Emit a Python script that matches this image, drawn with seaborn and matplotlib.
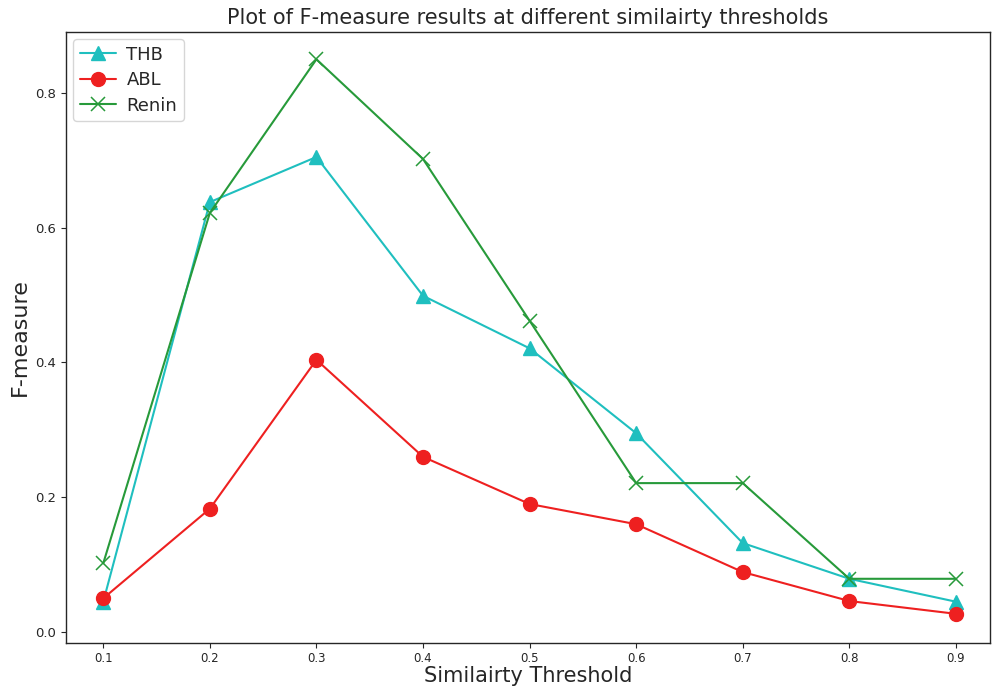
import matplotlib
matplotlib.use("Agg")
import matplotlib.pyplot as plt
import seaborn as sns
import pandas as pd

thresholds = [0.1, 0.2, 0.3, 0.4, 0.5, 0.6, 0.7, 0.8, 0.9]
thb = [0.045, 0.638, 0.705, 0.499, 0.421, 0.295, 0.132, 0.079, 0.045]
abl = [0.050, 0.183, 0.404, 0.260, 0.190, 0.160, 0.089, 0.046, 0.027]
renin = [0.102, 0.622, 0.850, 0.702, 0.462, 0.221, 0.221, 0.079, 0.079]

series = {"THB": thb, "ABL": abl, "Renin": renin}
colors = {"THB": "#1fbfbf", "ABL": "#ee2020", "Renin": "#279a3a"}
markers = {"THB": "^", "ABL": "o", "Renin": "x"}

sns.set_style("ticks")
plt.rcParams["font.family"] = ["DejaVu Sans"]

fig, ax = plt.subplots(figsize=(9.92, 6.88), dpi=100)
fig.subplots_adjust(left=0.0665, right=0.998, top=0.9535, bottom=0.0654)

for name, vals in series.items():
    df = pd.DataFrame({"x": thresholds, "y": vals})
    sns.lineplot(data=df, x="x", y="y", ax=ax, color=colors[name],
                 marker=markers[name], markersize=10, linewidth=1.5,
                 markeredgewidth=1 if name != "Renin" else 1.1,
                 markeredgecolor=colors[name], label=name)

ax.set_xlim(0.065, 0.932)
ax.set_ylim(-0.0163, 0.8905)
ax.set_xticks(thresholds)
ax.set_xticklabels([str(t) for t in thresholds], fontsize=8.5)
ax.set_yticks([0.0, 0.2, 0.4, 0.6, 0.8])
ax.tick_params(axis="y", labelsize=9.5)
ax.tick_params(axis="x", pad=3)
ax.set_xlabel("Similairty Threshold", fontsize=15, labelpad=1)
ax.set_ylabel("F-measure", fontsize=16)
ax.set_title("Plot of F-measure results at different similairty thresholds", fontsize=15)
ax.legend(loc="upper left", fontsize=13, handlelength=2.0, borderaxespad=0.4,
          labelspacing=0.42, handletextpad=0.6, borderpad=0.35)
for s in ax.spines.values():
    s.set_visible(True)
    s.set_linewidth(1.0)

fig.savefig("out.png", dpi=100)
